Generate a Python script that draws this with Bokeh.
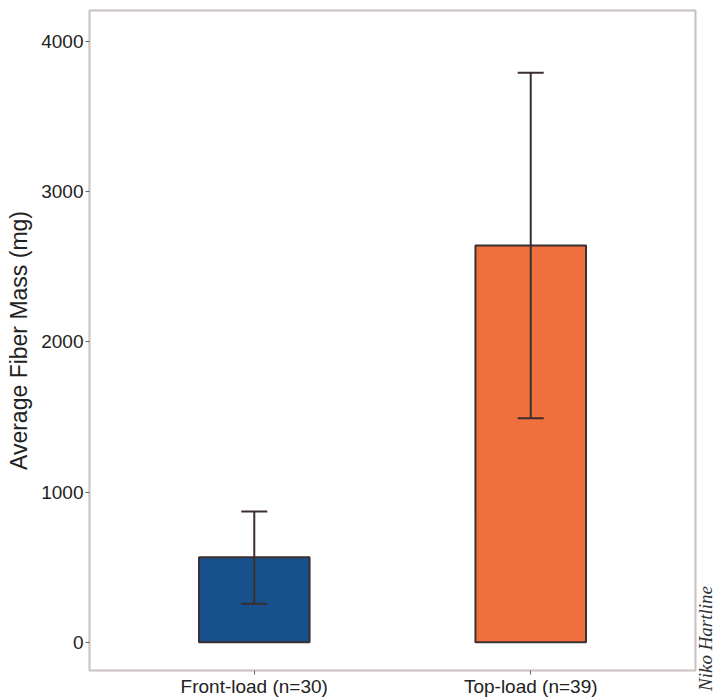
from bokeh.plotting import figure
from bokeh.layouts import row
from bokeh.models import FactorRange, Range1d, ColumnDataSource, Whisker, TeeHead, FixedTicker, Div
from bokeh.embed import file_html
from bokeh.resources import INLINE

categories = ["Front-load (n=30)", "Top-load (n=39)"]
means = [566, 2643]
upper_err = [871, 3793]
lower_err = [256, 1492]
colors = ["#17508c", "#ef703c"]
y_ticks = [0, 1000, 2000, 3000, 4000]
credit_text = "Niko Hartline"

FONT = "Liberation Sans"

src = ColumnDataSource(dict(cat=categories, mean=means, upper=upper_err, lower=lower_err, color=colors))

p = figure(
    x_range=FactorRange(*categories, range_padding=0.096, range_padding_units="absolute"),
    y_range=Range1d(-189, 4208),
    frame_width=606, frame_height=660,
    min_border_left=89, min_border_right=2, min_border_top=10, min_border_bottom=28,
    output_backend="svg", toolbar_location=None,
    background_fill_color="white", border_fill_color="white",
)

p.vbar(x="cat", top="mean", bottom=0, width=0.4, source=src,
       fill_color="color", line_color="#3a3030", line_width=2)

ec = "#3b2e2e"
w = Whisker(source=src, base="cat", upper="upper", lower="lower",
            line_color=ec, line_width=2, level="overlay",
            upper_head=TeeHead(size=26, line_color=ec, line_width=2),
            lower_head=TeeHead(size=26, line_color=ec, line_width=2))
p.add_layout(w)

p.xgrid.visible = False
p.ygrid.visible = False
p.outline_line_color = "#c9c0c0"
p.outline_line_width = 2

p.yaxis.ticker = FixedTicker(ticks=y_ticks)
p.yaxis.axis_label = "Average Fiber Mass (mg)"
p.yaxis.axis_label_text_font = FONT
p.yaxis.axis_label_text_font_style = "normal"
p.yaxis.axis_label_text_font_size = "23px"
p.yaxis.axis_label_text_color = "#222222"
p.yaxis.axis_label_standoff = 6
p.yaxis.minor_tick_line_color = None

for ax in (p.xaxis, p.yaxis):
    ax.axis_line_color = None
    ax.major_tick_out = 4
    ax.major_tick_in = 0
    ax.major_tick_line_color = "#666666"
    ax.major_label_text_font = FONT
    ax.major_label_text_color = "#222222"

p.yaxis.major_label_text_font_size = "19px"
p.yaxis.major_label_standoff = 2
p.xaxis.major_label_text_font_size = "19px"
p.xaxis.major_label_standoff = 1

# photo credit on the right edge, reading bottom to top
credit_html = (
    '<div style="writing-mode: vertical-rl; transform: rotate(180deg); '
    "font-family: 'Liberation Serif', serif; font-style: italic; font-size: 19px; "
    'line-height: 18px; color: #333333; width: 18px; height: 698px; '
    'padding-top: 7px; box-sizing: border-box; white-space: nowrap;">'
    + credit_text + '</div>'
)
credit = Div(text=credit_html, width=18, height=698, margin=0)

layout = row(p, credit, spacing=0)

open("out.html", "w").write(file_html(layout, INLINE))
